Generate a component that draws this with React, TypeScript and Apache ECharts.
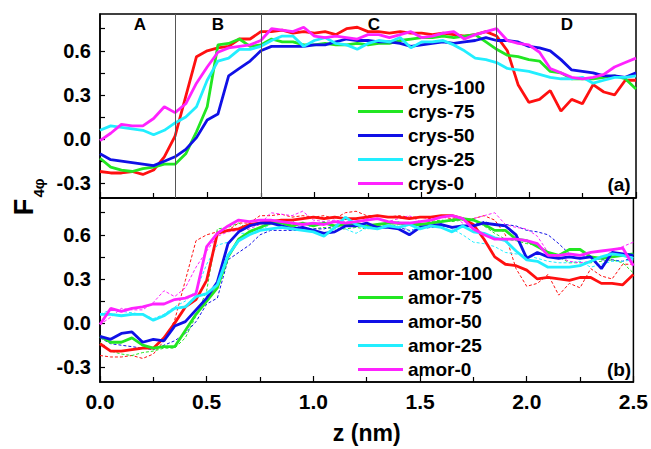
import React, { useEffect, useRef } from "react";
import * as echarts from "echarts";

const zValues = [
  0.0, 0.05, 0.1, 0.15, 0.2, 0.25, 0.3, 0.35, 0.4, 0.45,
  0.5, 0.55, 0.6, 0.65, 0.7, 0.75, 0.8, 0.85, 0.9, 0.95,
  1.0, 1.05, 1.1, 1.15, 1.2, 1.25, 1.3, 1.35, 1.4, 1.45,
  1.5, 1.55, 1.6, 1.65, 1.7, 1.75, 1.8, 1.85, 1.9, 1.95,
  2.0, 2.05, 2.1, 2.15, 2.2, 2.25, 2.3, 2.35, 2.4, 2.45, 2.5,
];

const crys100 = [
  -0.22, -0.23, -0.23, -0.22, -0.24, -0.21, -0.12, 0.02, 0.29, 0.56,
  0.6, 0.62, 0.63, 0.68, 0.68, 0.73, 0.73, 0.74, 0.72, 0.73,
  0.72, 0.73, 0.71, 0.75, 0.76, 0.73, 0.73, 0.72, 0.73, 0.72,
  0.72, 0.71, 0.72, 0.71, 0.7, 0.71, 0.73, 0.7, 0.6, 0.37,
  0.25, 0.27, 0.33, 0.19, 0.27, 0.24, 0.37, 0.32, 0.3, 0.4, 0.4,
];
const crys75 = [
  -0.13, -0.19, -0.21, -0.22, -0.2, -0.19, -0.17, -0.17, -0.1, 0.05,
  0.22, 0.64, 0.65, 0.68, 0.63, 0.64, 0.68, 0.66, 0.66, 0.64,
  0.64, 0.65, 0.64, 0.64, 0.65, 0.64, 0.65, 0.65, 0.67, 0.68,
  0.69, 0.69, 0.7, 0.69, 0.7, 0.71, 0.66, 0.61, 0.57, 0.56,
  0.54, 0.53, 0.46, 0.45, 0.41, 0.41, 0.41, 0.42, 0.43, 0.41, 0.34,
];
const crys50 = [
  -0.1, -0.14, -0.15, -0.16, -0.17, -0.18, -0.15, -0.12, -0.07, 0.01,
  0.13, 0.17, 0.43, 0.48, 0.53, 0.6, 0.63, 0.63, 0.63, 0.63,
  0.64, 0.64, 0.66, 0.68, 0.67, 0.67, 0.66, 0.66, 0.65, 0.63,
  0.64, 0.65, 0.66, 0.65, 0.66, 0.67, 0.69, 0.67, 0.67, 0.66,
  0.63, 0.62, 0.6, 0.54, 0.47, 0.46, 0.45, 0.43, 0.43, 0.42, 0.45,
];
const crys25 = [
  0.06, 0.09, 0.08, 0.07, 0.06, 0.03, 0.06, 0.11, 0.15, 0.22,
  0.4, 0.53, 0.55, 0.61, 0.61, 0.63, 0.67, 0.7, 0.7, 0.63,
  0.67, 0.69, 0.65, 0.64, 0.61, 0.65, 0.67, 0.66, 0.69, 0.62,
  0.66, 0.66, 0.67, 0.64, 0.6, 0.55, 0.54, 0.52, 0.48, 0.47,
  0.46, 0.44, 0.42, 0.41, 0.41, 0.42, 0.38, 0.4, 0.42, 0.42, 0.43,
];
const crys0 = [
  -0.01, 0.04, 0.1, 0.09, 0.09, 0.14, 0.22, 0.18, 0.24, 0.38,
  0.49, 0.59, 0.62, 0.63, 0.64, 0.67, 0.75, 0.74, 0.73, 0.76,
  0.7, 0.69, 0.7, 0.69, 0.68, 0.71, 0.71, 0.69, 0.71, 0.73,
  0.69, 0.7, 0.72, 0.73, 0.68, 0.71, 0.73, 0.75, 0.67, 0.65,
  0.64, 0.59, 0.48, 0.45, 0.42, 0.41, 0.42, 0.44, 0.49, 0.52, 0.55,
];

const amor100 = [
  -0.14, -0.19, -0.19, -0.18, -0.17, -0.17, -0.1, 0.0, 0.11, 0.16,
  0.29, 0.61, 0.63, 0.64, 0.67, 0.68, 0.69, 0.7, 0.7, 0.71,
  0.72, 0.71, 0.72, 0.71, 0.71, 0.72, 0.73, 0.72, 0.72, 0.71,
  0.72, 0.72, 0.73, 0.73, 0.71, 0.67, 0.57, 0.45, 0.4, 0.39,
  0.36, 0.3, 0.31, 0.3, 0.29, 0.31, 0.31, 0.27, 0.27, 0.26, 0.33,
];
const amor75 = [
  -0.09, -0.13, -0.13, -0.1, -0.15, -0.17, -0.16, -0.16, -0.05, 0.06,
  0.15, 0.24, 0.45, 0.57, 0.62, 0.65, 0.68, 0.68, 0.66, 0.68,
  0.66, 0.68, 0.66, 0.67, 0.68, 0.66, 0.67, 0.68, 0.68, 0.67,
  0.67, 0.68, 0.69, 0.7, 0.71, 0.7, 0.67, 0.63, 0.63, 0.57,
  0.56, 0.52, 0.48, 0.46, 0.5, 0.5, 0.45, 0.44, 0.45, 0.46, 0.47,
];
const amor50 = [
  -0.09, -0.11, -0.07, -0.06, -0.13, -0.11, -0.12, -0.02, 0.01, 0.09,
  0.17, 0.28, 0.54, 0.62, 0.66, 0.68, 0.68, 0.66, 0.64, 0.65,
  0.63, 0.61, 0.62, 0.66, 0.66, 0.68, 0.65, 0.65, 0.64, 0.6,
  0.65, 0.66, 0.67, 0.65, 0.66, 0.66, 0.68, 0.67, 0.66, 0.6,
  0.44, 0.48, 0.45, 0.44, 0.45, 0.44, 0.45, 0.37, 0.48, 0.47, 0.46,
];
const amor25 = [
  0.06, 0.06, 0.05, 0.06, 0.06, 0.02, 0.05, 0.1, 0.11, 0.18,
  0.2, 0.26, 0.46, 0.56, 0.6, 0.63, 0.64, 0.65, 0.64, 0.63,
  0.62, 0.59, 0.65, 0.72, 0.67, 0.65, 0.64, 0.66, 0.65, 0.67,
  0.64, 0.66, 0.65, 0.62, 0.66, 0.62, 0.61, 0.58, 0.56, 0.49,
  0.43, 0.42, 0.38, 0.38, 0.38, 0.39, 0.42, 0.45, 0.47, 0.46, 0.44,
];
const amor0 = [
  -0.01, 0.1, 0.08, 0.1, 0.11, 0.13, 0.13, 0.16, 0.17, 0.2,
  0.52, 0.61, 0.66, 0.7, 0.69, 0.7, 0.7, 0.69, 0.68, 0.67,
  0.68, 0.67, 0.69, 0.68, 0.69, 0.7, 0.71, 0.69, 0.68, 0.68,
  0.69, 0.7, 0.72, 0.73, 0.71, 0.64, 0.6, 0.57, 0.57, 0.57,
  0.56, 0.54, 0.46, 0.46, 0.47, 0.46, 0.48, 0.49, 0.5, 0.51, 0.39,
];

const crysNames = ["crys-100", "crys-75", "crys-50", "crys-25", "crys-0"];
const amorNames = ["amor-100", "amor-75", "amor-50", "amor-25", "amor-0"];
const colors = ["#ff1010", "#22e622", "#1010e6", "#22eeff", "#ff22ff"];
const regionLines = [0.35, 0.75, 1.85];
const regionLabels = ["A", "B", "C", "D"];
const yMajorTicks = [-0.3, 0.0, 0.3, 0.6];
const yAllTicks = [-0.3, -0.15, 0.0, 0.15, 0.3, 0.45, 0.6, 0.75];

const FONT = 'Arial, "Liberation Sans", sans-serif';

function pair(vals: number[]) {
  return zValues.map((z, i) => [z, vals[i]]);
}

export default function App() {
  const ref = useRef<HTMLDivElement>(null);
  useEffect(() => {
    document.body.style.margin = "0";
    if (!ref.current) return;
    const chart = echarts.init(ref.current, null, { renderer: "svg" });
    const crysData = [crys100, crys75, crys50, crys25, crys0];
    const amorData = [amor100, amor75, amor50, amor25, amor0];

    const xAxisBase = (gridIndex: number, showLabel: boolean) => ({
      type: "value",
      gridIndex,
      min: 0,
      max: 2.5,
      interval: 0.5,
      axisLine: { show: true, onZero: false, lineStyle: { color: "#000", width: 1.5 } },
      axisTick: { show: true, inside: true, length: 6, lineStyle: { color: "#000", width: 1.2 } },
      minorTick: { show: true, splitNumber: 2, length: 5, lineStyle: { color: "#000", width: 1.2 } },
      splitLine: { show: false },
      axisLabel: {
        show: showLabel,
        margin: 9,
        fontSize: 21,
        fontWeight: "bold",
        color: "#000",
        fontFamily: FONT,
        formatter: (v: number) => v.toFixed(1),
      },
      ...(showLabel
        ? {
            name: "z (nm)",
            nameLocation: "middle",
            nameGap: 39,
            nameTextStyle: { fontSize: 23, fontWeight: "bold", color: "#000", fontFamily: FONT },
          }
        : {}),
    });

    const yAxisBase = (gridIndex: number) => ({
      type: "value",
      gridIndex,
      min: -0.4,
      max: 0.85,
      axisLine: { show: true, onZero: false, lineStyle: { color: "#000", width: 1.5 } },
      axisTick: {
        show: true,
        inside: true,
        length: 5,
        customValues: yAllTicks,
        lineStyle: { color: "#000", width: 1.2 },
      },
      splitLine: { show: false },
      axisLabel: {
        show: true,
        margin: 9,
        fontSize: 20,
        fontWeight: "bold",
        color: "#000",
        fontFamily: FONT,
        customValues: yMajorTicks,
        formatter: (v: number) => v.toFixed(1),
      },
    });

    const series: any[] = [];
    crysNames.forEach((name, i) => {
      series.push({
        name,
        type: "line",
        xAxisIndex: 0,
        yAxisIndex: 0,
        data: pair(crysData[i]),
        symbol: "none",
        showSymbol: false,
        lineStyle: { color: colors[i], width: 2.8 },
        itemStyle: { color: colors[i] },
        ...(i === 0
          ? {
              markLine: {
                silent: true,
                symbol: "none",
                label: { show: false },
                lineStyle: { color: "#555", width: 1, type: "solid" },
                data: regionLines.map((x) => ({ xAxis: x })),
              },
            }
          : {}),
      });
    });
    crysNames.forEach((name, i) => {
      series.push({
        name: name + " ref",
        type: "line",
        xAxisIndex: 1,
        yAxisIndex: 1,
        data: pair(crysData[i]),
        symbol: "none",
        showSymbol: false,
        lineStyle: { color: colors[i], width: 1, type: [3, 2] },
        itemStyle: { color: colors[i] },
      });
    });
    amorNames.forEach((name, i) => {
      series.push({
        name,
        type: "line",
        xAxisIndex: 1,
        yAxisIndex: 1,
        data: pair(amorData[i]),
        symbol: "none",
        showSymbol: false,
        lineStyle: { color: colors[i], width: 2.8 },
        itemStyle: { color: colors[i] },
      });
    });

    const legendBase = {
      orient: "vertical",
      left: 353,
      icon: "rect",
      itemWidth: 45,
      itemHeight: 3,
      itemGap: 5,
      selectedMode: false,
      textStyle: {
        fontSize: 19,
        lineHeight: 19,
        fontWeight: "bold",
        color: "#000",
        fontFamily: FONT,
      },
    };

    const labelXs = [140, 218, 374, 567];

    chart.setOption({
      animation: false,
      backgroundColor: "#fff",
      grid: [
        { left: 100, top: 14, width: 536, height: 184, show: true, borderColor: "#000", borderWidth: 1.5, backgroundColor: "transparent" },
        { left: 100, top: 198, width: 536, height: 184, show: true, borderColor: "#000", borderWidth: 1.5, backgroundColor: "transparent" },
      ],
      xAxis: [xAxisBase(0, false), xAxisBase(1, true)],
      yAxis: [yAxisBase(0), yAxisBase(1)],
      legend: [
        { ...legendBase, top: 73, data: crysNames.map((n) => ({ name: n })) },
        { ...legendBase, top: 259, data: amorNames.map((n) => ({ name: n })) },
      ],
      series,
      graphic: [
        ...regionLabels.map((t, i) => ({
          type: "text",
          x: labelXs[i],
          y: 24,
          style: {
            text: t,
            fontSize: 17,
            fontWeight: "bold",
            fill: "#000",
            fontFamily: FONT,
            align: "center",
            verticalAlign: "middle",
          },
          z: 10,
        })),
        {
          type: "text",
          x: 619,
          y: 184,
          style: { text: "(a)", fontSize: 19, fontWeight: "bold", fill: "#000", fontFamily: FONT, align: "center", verticalAlign: "middle" },
        },
        {
          type: "text",
          x: 619,
          y: 369,
          style: { text: "(b)", fontSize: 19, fontWeight: "bold", fill: "#000", fontFamily: FONT, align: "center", verticalAlign: "middle" },
        },
        {
          type: "text",
          x: 24,
          y: 207,
          rotation: Math.PI / 2,
          style: { text: "F", fontSize: 27, fontWeight: "bold", fill: "#000", fontFamily: FONT, align: "center", verticalAlign: "middle" },
        },
        {
          type: "text",
          x: 38,
          y: 188,
          rotation: Math.PI / 2,
          style: { text: "4φ", fontSize: 15, fontWeight: "bold", fill: "#000", fontFamily: FONT, align: "center", verticalAlign: "middle" },
        },
      ],
    });
    return () => chart.dispose();
  }, []);
  return <div ref={ref} style={{ width: 651, height: 449 }} />;
}
